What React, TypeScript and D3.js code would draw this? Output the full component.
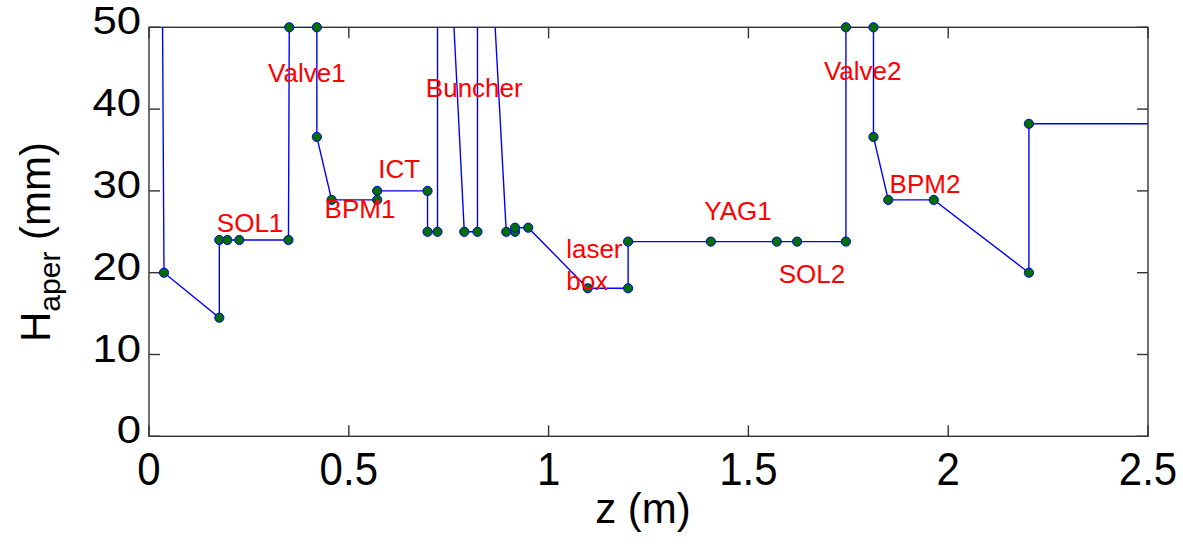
import React from "react";
import * as d3 from "d3";

// Beam-line horizontal aperture profile along z
const zPos = [
  0.0, 0.0375, 0.176, 0.176, 0.196, 0.226, 0.349, 0.351, 0.42, 0.42, 0.457, 0.571, 0.571,
  0.697, 0.697, 0.722, 0.722, 0.789, 0.822, 0.822, 0.894, 0.916, 0.916, 0.949, 1.098, 1.199,
  1.199, 1.406, 1.571, 1.622, 1.744, 1.744, 1.813, 1.813, 1.85, 1.964, 2.202, 2.202, 2.6,
];
const hAper = [
  340, 20, 14.5, 24, 24, 24, 24, 50, 50, 36.6, 28.9, 28.9, 30,
  30, 25, 25, 90, 25, 25, 90, 25, 25, 25.5, 25.5, 18.1, 18.1,
  23.8, 23.8, 23.8, 23.8, 23.8, 50, 50, 36.6, 28.9, 28.9, 20, 38.2, 38.2,
];

const xTicks = [0, 0.5, 1, 1.5, 2, 2.5];
const xTickLabels = ["0", "0.5", "1", "1.5", "2", "2.5"];
const yTicks = [0, 10, 20, 30, 40, 50];
const yTickLabels = ["0", "10", "20", "30", "40", "50"];

// Element annotations: text, z, H (baseline of first line), alignment
const elemNames = ["Valve1", "SOL1", "BPM1", "ICT", "Buncher", "laser\nbox", "YAG1", "SOL2", "Valve2", "BPM2"];
const elemZ = [0.395, 0.253, 0.528, 0.626, 0.814, 1.044, 1.474, 1.659, 1.786, 1.942];
const elemH = [43.35, 24.97, 26.7, 31.6, 41.5, 21.8, 26.5, 18.7, 43.5, 29.7];
const elemAlign = ["middle", "middle", "middle", "middle", "middle", "start", "middle", "middle", "middle", "middle"];

const W = 1183;
const H = 544;
const left = 149;
const right = 1148;
const top = 27.3;
const bottom = 436.3;

export default function App() {
  const x = d3.scaleLinear().domain([0, 2.5]).range([left, right]);
  const y = d3.scaleLinear().domain([0, 50]).range([bottom, top]);
  const pts = zPos.map((z, i) => [z, hAper[i]] as [number, number]);
  const line = d3
    .line<[number, number]>()
    .x((d) => x(d[0]))
    .y((d) => y(d[1]));
  const shown = pts.filter((d) => d[0] <= 2.5 && d[1] <= 50 && d[1] >= 0);
  const axisColor = "#333";
  const font = "'Liberation Sans', Arial, Helvetica, sans-serif";
  const tickLen = 11;

  return (
    <svg
      width={W}
      height={H}
      style={{ position: "absolute", left: 0, top: 0, background: "#fff" }}
      fontFamily={font}
    >
      <defs>
        <clipPath id="plotClip">
          <rect x={left} y={top} width={right - left} height={bottom - top} />
        </clipPath>
      </defs>
      <rect x={0} y={0} width={W} height={H} fill="#fff" />

      {/* axes box */}
      <rect x={left} y={top} width={right - left} height={bottom - top} fill="none" stroke={axisColor} strokeWidth={1.4} />
      {xTicks.map((t) => (
        <g key={"xt" + t} stroke={axisColor} strokeWidth={1.4}>
          <line x1={x(t)} x2={x(t)} y1={bottom} y2={bottom - tickLen} />
          <line x1={x(t)} x2={x(t)} y1={top} y2={top + tickLen} />
        </g>
      ))}
      {yTicks.map((t) => (
        <g key={"yt" + t} stroke={axisColor} strokeWidth={1.4}>
          <line x1={left} x2={left + tickLen} y1={y(t)} y2={y(t)} />
          <line x1={right} x2={right - tickLen} y1={y(t)} y2={y(t)} />
        </g>
      ))}

      {/* tick labels */}
      {xTicks.map((t, i) => (
        <g key={"xl" + t} transform={`translate(${x(t)},${485}) scale(1,1.1)`}>
          <text textAnchor="middle" fontSize={42} fill="#000">
            {xTickLabels[i]}
          </text>
        </g>
      ))}
      {yTicks.map((t, i) => (
        <g key={"yl" + t} transform={`translate(${141},${y(t) + 7}) scale(1.15,1)`}>
          <text textAnchor="end" fontSize={38} fill="#000">
            {yTickLabels[i]}
          </text>
        </g>
      ))}

      {/* axis titles */}
      <text x={643} y={523} textAnchor="middle" fontSize={42} fill="#000">
        z (m)
      </text>
      <g transform={`translate(50,${242}) rotate(-90)`}>
        <text textAnchor="middle" fontSize={42} fill="#000">
          H
          <tspan fontSize={30} dy={10}>aper</tspan>
          <tspan dy={-10}> (mm)</tspan>
        </text>
      </g>

      {/* aperture profile */}
      <path d={line(pts) || ""} fill="none" stroke="#0000ff" strokeWidth={1.4} clipPath="url(#plotClip)" />
      {shown.map((d, i) => (
        <circle key={"m" + i} cx={x(d[0])} cy={y(d[1])} r={4.6} fill="#006e00" stroke="#0000ff" strokeWidth={1} />
      ))}

      {/* element labels */}
      {elemNames.map((name, i) => (
        <text
          key={"lab" + i}
          x={x(elemZ[i])}
          y={y(elemH[i])}
          textAnchor={elemAlign[i] as any}
          fontSize={26}
          fill="#ff0000"
        >
          {name.split("\n").map((ln, j) => (
            <tspan key={j} x={x(elemZ[i])} dy={j === 0 ? 0 : 32}>
              {ln}
            </tspan>
          ))}
        </text>
      ))}
    </svg>
  );
}
